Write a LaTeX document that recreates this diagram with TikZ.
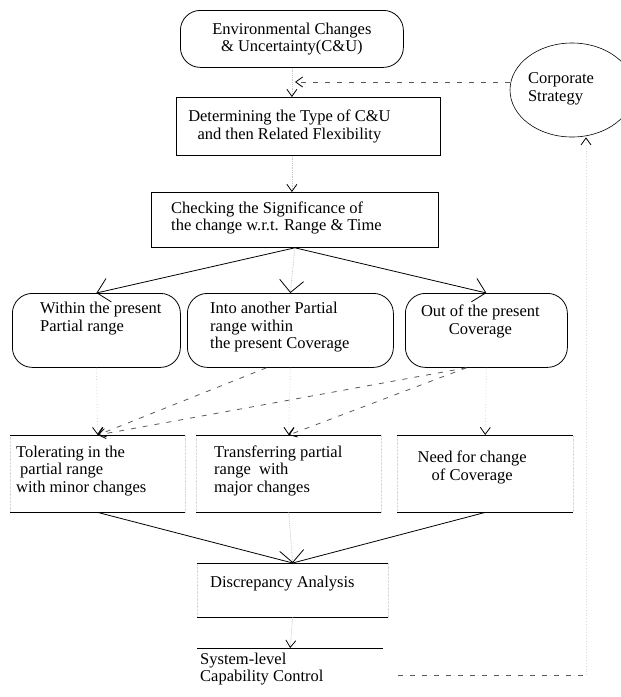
\documentclass[tikz,border=0pt]{standalone}
\usepackage{fontspec}
\setmainfont{Liberation Serif}
\usetikzlibrary{arrows.meta,shapes.geometric}

\begin{document}
\begin{tikzpicture}[x=1pt,y=-1pt,
		font=\fontsize{16.5}{17.5}\selectfont,
		every label/.style={align=left, inner sep=0pt},
		rbox/.style={draw, rounded corners=20pt, line width=.8pt, anchor=north west, inner sep=0pt},
		sbox/.style={draw, line width=.8pt, anchor=north west, inner sep=0pt},
		lbox/.style={draw=gray!30, densely dotted, anchor=north west, inner sep=0pt},
		rule/.style={line width=.8pt},
		arr/.style={line width=.8pt, -{Straight Barb[length=7pt,width=10pt,color=black]}},
		fan/.style={line width=.8pt, -{Straight Barb[length=12pt,width=24pt,color=black]}},
		faint/.style={draw=gray!45, densely dotted},
		fainter/.style={draw=gray!30, dotted},
		dline/.style={line width=.8pt, draw=black!65, dash pattern=on 5pt off 7pt}]
			\useasboundingbox (0,0) rectangle (621,697);

			\node[rbox, minimum width=223, minimum height=57, align=center] (EC) at (180,10) {Environmental Changes\\\& Uncertainty(C\&U)};
			\node[draw, ellipse, line width=.6pt, minimum width=124, minimum height=94, inner sep=0pt, label={[align=left, anchor=center, xshift=-11pt, yshift=1pt]center:{Corporate\\Strategy}}] (CS) at (572,90) {};
			\node[sbox, minimum width=264, minimum height=58, label={[align=center, anchor=center, xshift=-19pt]center:{Determining the Type of C\&U\\and then Related Flexibility}}] (DT) at (176,97) {};
			\node[sbox, minimum width=287, minimum height=55, label={[anchor=west, xshift=20pt, yshift=2pt]west:{Checking the Significance of\\the change w.r.t. Range \& Time}}] (CK) at (151,192) {};
			\node[rbox, minimum width=168, minimum height=74, label={[anchor=north west, xshift=28pt, yshift=-9pt]north west:{Within the present\\Partial range}}] (WP) at (12,293) {};
			\node[rbox, minimum width=206, minimum height=74, label={[anchor=north west, xshift=23pt, yshift=-9pt]north west:{Into another Partial\\range within\\the present Coverage}}] (IA) at (187,293) {};
			\node[rbox, minimum width=162, minimum height=74, label={[align=center, anchor=north, xshift=-6pt, yshift=-12pt]north:{Out of the present\\Coverage}}] (OP) at (405,293) {};
			\node[lbox, minimum width=175, minimum height=77, label={[anchor=west, xshift=6pt, yshift=3pt]west:{Tolerating in the\\\hspace*{4pt}partial range\\with minor changes}}] (TP) at (10,435) {};
			\node[lbox, minimum width=185, minimum height=77, label={[anchor=west, xshift=18pt, yshift=3pt]west:{Transferring partial\\range~ with\\major changes}}] (TR) at (196,435) {};
			\node[lbox, minimum width=176, minimum height=77, label={[align=center, anchor=center, xshift=-13pt, yshift=6pt]center:{Need for change\\of Coverage}}] (NC) at (397,435) {};
			\node[lbox, minimum width=191, minimum height=54, label={[anchor=west, xshift=13pt, yshift=7pt]west:{Discrepancy Analysis}}] (DA) at (197,563) {};
			\node[anchor=north west, inner sep=0pt, minimum width=186, minimum height=42, label={[anchor=west, xshift=3pt]west:{System-level\\Capability Control}}] (SC) at (197,648) {};
			\coordinate (JN) at (295,82);
			\coordinate (FB) at (586,675);

			\foreach \n in {TP,TR,NC,DA}
				\draw[rule] (\n.north west)--(\n.north east) (\n.south west)--(\n.south east);
			\draw[rule] (SC.north west)--(SC.north east);

			\draw[faint, arr] (EC.south)--(EC.south |- DT.north);
			\draw[dline, arr] (CS.west |- JN)--(JN);
			\draw[faint, arr] (EC.south |- DT.south)--(EC.south |- CK.north);
			\draw[fan] (CK.south)--(WP.north);
			\draw[faint, fan] (CK.south)--(IA.north);
			\draw[fan] (CK.south)--(OP.north);
			\draw[fainter, arr] (WP.south)--(TP.north);
			\draw[fainter, arr] (IA.south)--(TR.north);
			\draw[fainter, arr] (OP.south)--(NC.north);
			\draw[dline, arr] ([xshift=-24pt]IA.south)--(TP.north);
			\draw[dline, arr] ([xshift=-20pt]OP.south)--(TP.north);
			\draw[dline, arr] ([xshift=-20pt]OP.south)--(TR.north);
			\draw[rule] (TP.south)--(DA.north);
			\draw[rule] (NC.south)--(DA.north);
			\draw[faint, fan] (TR.south)--(DA.north);
			\draw[faint, arr] (DA.south)--(SC.north);
			\draw[dline] ([xshift=15pt]SC.east |- FB)--(FB);
			\draw[fainter, arr] (FB)--(FB |- CS.south);
		\end{tikzpicture}
\end{document}
